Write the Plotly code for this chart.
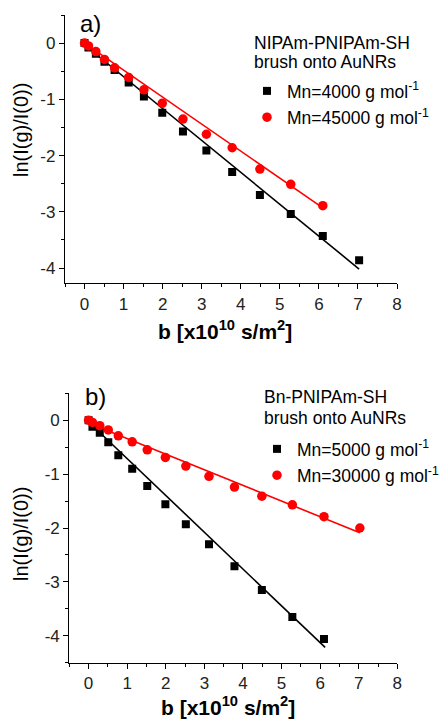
import plotly.graph_objects as go

# ---------------- data ----------------
b_a = [0, 0.1, 0.29, 0.51, 0.77, 1.13, 1.52, 1.99, 2.52, 3.12, 3.78, 4.49, 5.28, 6.10, 7.03]
ln_a_4000 = [0, -0.08, -0.19, -0.33, -0.48, -0.70, -0.95, -1.24, -1.57, -1.91, -2.29, -2.70, -3.04, -3.43, -3.86]
ln_a_45000 = [0, -0.05, -0.15, -0.29, -0.44, -0.61, -0.83, -1.07, -1.35, -1.62, -1.86, -2.24, -2.51, -2.89]

b_b = [0, 0.1, 0.29, 0.51, 0.77, 1.13, 1.52, 1.99, 2.52, 3.12, 3.78, 4.49, 5.28, 6.10, 7.03]
ln_b_5000 = [0, -0.12, -0.23, -0.41, -0.65, -0.90, -1.22, -1.56, -1.93, -2.30, -2.71, -3.15, -3.65, -4.06]
ln_b_30000 = [0, -0.04, -0.10, -0.18, -0.29, -0.40, -0.55, -0.69, -0.85, -1.04, -1.24, -1.41, -1.57, -1.79, -2.00]

# linear fits (slope, intercept, x-start, x-end)
fit_a_4000 = (-0.567, -0.03, 0.1, 7.03)
fit_a_45000 = (-0.48, 0.0, 0.0, 6.10)
fit_b_5000 = (-0.683, -0.03, 0.1, 6.13)
fit_b_30000 = (-0.29, -0.05, 0.0, 7.03)

legend_a_title = ["NIPAm-PNIPAm-SH", "brush onto AuNRs"]
legend_b_title = ["Bn-PNIPAm-SH", "brush onto AuNRs"]

x_ticks = [0, 1, 2, 3, 4, 5, 6, 7, 8]
x_ticktext = ["0", "1", "2", "3", "4", "5", "6", "7", "8"]
y_ticks = [0, -1, -2, -3, -4]
y_ticktext = ["0", "-1", "-2", "-3", "-4"]

FONT = "Liberation Sans, Arial, sans-serif"
W, H = 439, 720


def px(x):
    return x / W


def py(y):
    return 1 - y / H


fig = go.Figure()


def add_fit(fit, xa, ya, color):
    m, c, x0, x1 = fit
    fig.add_trace(go.Scatter(x=[x0, x1], y=[m * x0 + c, m * x1 + c], mode="lines",
                             line=dict(color=color, width=1.6), showlegend=False,
                             xaxis=xa, yaxis=ya, hoverinfo="skip"))


add_fit(fit_a_4000, "x", "y", "black")
add_fit(fit_a_45000, "x", "y", "red")
add_fit(fit_b_5000, "x2", "y2", "black")
add_fit(fit_b_30000, "x2", "y2", "red")

fig.add_trace(go.Scatter(x=b_a[:len(ln_a_4000)], y=ln_a_4000, mode="markers",
                         marker=dict(symbol="square", size=8, color="black"), legendgroup="a1",
                         name="Mn=4000 g mol<sup>-1</sup>", legend="legend", xaxis="x", yaxis="y"))
fig.add_trace(go.Scatter(x=b_a[:len(ln_a_45000)], y=ln_a_45000, mode="markers",
                         marker=dict(symbol="circle", size=9.5, color="red"), legendgroup="a2",
                         name="Mn=45000 g mol<sup>-1</sup>", legend="legend", xaxis="x", yaxis="y"))
fig.add_trace(go.Scatter(x=b_b[:len(ln_b_5000)], y=ln_b_5000, mode="markers",
                         marker=dict(symbol="square", size=8, color="black"), legendgroup="b1",
                         name="Mn=5000 g mol<sup>-1</sup>", legend="legend2", xaxis="x2", yaxis="y2"))
fig.add_trace(go.Scatter(x=b_b[:len(ln_b_30000)], y=ln_b_30000, mode="markers",
                         marker=dict(symbol="circle", size=9.5, color="red"), legendgroup="b2",
                         name="Mn=30000 g mol<sup>-1</sup>", legend="legend2", xaxis="x2", yaxis="y2"))

axis_common = dict(showline=True, linecolor="black", linewidth=1.3, ticks="outside",
                   ticklen=5, tickwidth=1.2, tickcolor="black", showgrid=False, zeroline=False,
                   tickfont=dict(family=FONT, size=17, color="#222"))

xminor = dict(dtick=0.5, tick0=0, ticks="outside", ticklen=3, tickwidth=1, tickcolor="black", showgrid=False)
yminor = dict(dtick=0.5, tick0=0, ticks="outside", ticklen=3, tickwidth=1, tickcolor="black", showgrid=False)

legend_common = dict(xanchor="left", yanchor="top", bgcolor="rgba(0,0,0,0)",
                     font=dict(family=FONT, size=17.5, color="black"),
                     itemwidth=30, tracegroupgap=0.5)

fig.update_layout(
    width=W, height=H, margin=dict(l=0, r=0, t=0, b=0, autoexpand=False),
    paper_bgcolor="white", plot_bgcolor="white",
    xaxis=dict(domain=[px(65), px(397)], range=[-0.5, 8], anchor="y", automargin=False,
               tickvals=x_ticks, ticktext=x_ticktext, minor=xminor, **axis_common),
    yaxis=dict(domain=[py(283.3), py(15)], range=[-4.27, 0.5], anchor="x", automargin=False,
               tickvals=y_ticks, ticktext=y_ticktext, minor=yminor, **axis_common),
    xaxis2=dict(domain=[px(69.3), px(397.3)], range=[-0.5, 8], anchor="y2", automargin=False,
                tickvals=x_ticks, ticktext=x_ticktext, minor=xminor, **axis_common),
    yaxis2=dict(domain=[py(662.7), py(393.3)], range=[-4.5, 0.5], anchor="x2", automargin=False,
                tickvals=y_ticks, ticktext=y_ticktext, minor=yminor, **axis_common),
    legend=dict(x=px(247), y=py(73), **legend_common),
    legend2=dict(x=px(257), y=py(431), **legend_common),
    showlegend=True,
)

annos = [
    dict(text="a)", x=px(90), y=py(24), size=24, angle=0, xa="center"),
    dict(text="b)", x=px(95), y=py(396), size=24, angle=0, xa="center"),
    dict(text="ln(I(g)/I(0))", x=px(21), y=py(130), size=20, angle=-90, xa="center"),
    dict(text="ln(I(g)/I(0))", x=px(21), y=py(534), size=20, angle=-90, xa="center"),
    dict(text="<b>b [x10<sup>10</sup> s/m<sup>2</sup>]</b>", x=px(225), y=py(330), size=21, angle=0, xa="center"),
    dict(text="<b>b [x10<sup>10</sup> s/m<sup>2</sup>]</b>", x=px(228), y=py(706), size=21, angle=0, xa="center"),
    dict(text=legend_a_title[0], x=px(252), y=py(43), size=17.5, angle=0, xa="left"),
    dict(text=legend_a_title[1], x=px(252), y=py(62), size=17.5, angle=0, xa="left"),
    dict(text=legend_b_title[0], x=px(262), y=py(397), size=17.5, angle=0, xa="left"),
    dict(text=legend_b_title[1], x=px(262), y=py(418), size=17.5, angle=0, xa="left"),
]
for a in annos:
    fig.add_annotation(text=a["text"], x=a["x"], y=a["y"], xref="paper", yref="paper",
                       xanchor=a["xa"], yanchor="middle", showarrow=False, textangle=a["angle"],
                       font=dict(family=FONT, size=a["size"], color="black"))

fig.write_html("out.html")
